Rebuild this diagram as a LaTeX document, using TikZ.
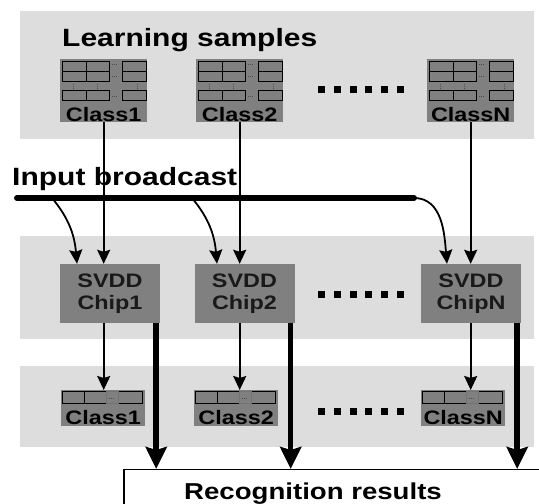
\documentclass[tikz,border=0pt]{standalone}
\usepackage{fontspec}
\setmainfont{Liberation Sans}[FakeStretch=1.2]
\usetikzlibrary{arrows.meta, positioning}
\definecolor{panelgray}{RGB}{221,221,221}
\definecolor{boxgray}{RGB}{128,128,128}

\begin{document}
\begin{tikzpicture}[
    x=1pt, y=1pt,
    panel/.style={fill=panelgray, draw=none},
    chip/.style={rectangle, fill=boxgray, minimum width=100pt, minimum height=59pt,
                 inner sep=0pt, align=center, text=black!90,
                 font=\fontsize{19.5}{21.5}\selectfont\bfseries},
    sample/.style={rectangle, fill=boxgray, minimum width=87pt, minimum height=63pt,
                   inner sep=0pt, anchor=north west},
    outcls/.style={rectangle, fill=boxgray, minimum width=84pt, minimum height=36pt,
                   inner sep=0pt, anchor=north west},
    cell/.style={draw=black, line width=1pt, fill=boxgray},
    dots/.style={draw=black!70, line width=0.8pt, dash pattern=on 1pt off 1pt},
    classtxt/.style={font=\fontsize{19.5}{20}\selectfont\bfseries, inner sep=0pt, anchor=base},
    title/.style={font=\fontsize{25}{28}\selectfont\bfseries, inner sep=0pt},
    sq/.style={fill=black, minimum size=7pt, inner sep=0pt},
    arrow/.style={-{Stealth[length=14pt, width=13pt, inset=2pt]}, line width=1.8pt},
    bigarrow/.style={-{Stealth[length=22pt, width=21pt, inset=3pt]}, line width=5.5pt},
    bus/.style={line width=6pt, line cap=round}
]
\useasboundingbox (0,0) rectangle (539,504);

% Bandes grises
\fill[panel] (20,365) rectangle (534,493);
\fill[panel] (20,165) rectangle (534,268);
\fill[panel] (20,57) rectangle (534,138);

% Echantillons d'apprentissage
\node[title, anchor=base west] (learn) at (62,457) {Learning samples};
\node[sample] (samp1) at (60,445) {};
\node[sample] (samp2) at (196,445) {};
\node[sample] (sampN) at (427,445) {};

\foreach \n in {1,2,N}{
  \begin{scope}[shift={(samp\n.north west)}]
    \foreach \xa/\xb in {2/26, 26/49, 62/86}
      \foreach \ya/\yb in {3/13, 13/23, 32/42}
        \draw[cell] (\xa,-\ya) rectangle (\xb,-\yb);
    \foreach \yy in {5,17,37} \draw[dots] (52,-\yy) -- (58,-\yy);
    \foreach \xx in {13,37,77} \draw[dots] (\xx,-25) -- (\xx,-30);
  \end{scope}
}
\node[classtxt] (lsamp1) at ([yshift=1pt]samp1.south) {Class1};
\node[classtxt] (lsamp2) at ([yshift=1pt]samp2.south) {Class2};
\node[classtxt] (lsampN) at ([yshift=1pt]sampN.south) {ClassN};

% Puces SVDD
\node[chip] (chip1) at (110,210.5) {SVDD\\Chip1};
\node[chip] (chip2) at (244.5,210.5) {SVDD\\Chip2};
\node[chip] (chipN) at (471,210.5) {SVDD\\ChipN};

% Classes en sortie
\node[outcls] (out1) at (61,114) {};
\node[outcls] (out2) at (194,114) {};
\node[outcls] (outN) at (421,114) {};
\foreach \n in {1,2,N}{
  \begin{scope}[shift={(out\n.north west)}]
    \foreach \xa/\xb in {1/23, 23/45, 57/81}
      \draw[cell] (\xa,-2) rectangle (\xb,-14);
    \draw[cell, draw=black!55] (45,-2) rectangle (57,-14);
    \draw[dots] (48,-8) -- (54,-8);
  \end{scope}
}
\node[classtxt] (lout1) at ([yshift=2pt]out1.south) {Class1};
\node[classtxt] (lout2) at ([yshift=2pt]out2.south) {Class2};
\node[classtxt] (loutN) at ([yshift=2pt]outN.south) {ClassN};

% Points de suspension
\foreach \k in {0,...,5}{
  \node[sq] (dta\k) at (321.5+15.8*\k,414) {};
  \node[sq] (dtb\k) at (321.5+15.8*\k,209) {};
  \node[sq] (dtc\k) at (321.5+15.8*\k,92) {};
}

% Resultats
\node[draw, line width=1.5pt, fill=white, minimum width=440pt, minimum height=50pt,
      anchor=north west] (res) at (123,35) {};
\node[title, font=\fontsize{23}{26}\selectfont\bfseries, anchor=base] (restxt) at (313,4.5) {Recognition results};

% Diffusion d'entree
\node[title, anchor=base west] (input) at (12,318) {Input broadcast};
\coordinate (busA) at (17,306);
\coordinate (busB) at (414,306);
\coordinate (tap1) at (52,306);
\coordinate (tap2) at (192,306);
\draw[bus] (busA) -- (busB);
\draw[arrow] (tap1) to[out=-50, in=95] ([xshift=-33pt]chip1.north);
\draw[arrow] (tap2) to[out=-50, in=95] ([xshift=-27.5pt]chip2.north);
\draw[arrow] (busB) to[out=0, in=95] ([xshift=-24pt]chipN.north);

% Fleches echantillons -> puces -> classes
\draw[arrow] (lsamp1.south |- samp1.south) -- (lsamp1.south |- chip1.north);
\draw[arrow] (lsamp2.south |- samp2.south) -- (lsamp2.south |- chip2.north);
\draw[arrow] (lsampN.south |- sampN.south) -- (lsampN.south |- chipN.north);
\draw[arrow] (lsamp1.south |- chip1.south) -- (lsamp1.south |- out1.north);
\draw[arrow] (lsamp2.south |- chip2.south) -- (lsamp2.south |- out2.north);
\draw[arrow] (lsampN.south |- chipN.south) -- (lsampN.south |- outN.north);

% Fleches vers les resultats
\draw[bigarrow] ([xshift=-4pt]chip1.south east) -- ([xshift=-4pt]chip1.south east |- res.north);
\draw[bigarrow] ([xshift=-4pt]chip2.south east) -- ([xshift=-4pt]chip2.south east |- res.north);
\draw[bigarrow] ([xshift=-4pt]chipN.south east) -- ([xshift=-4pt]chipN.south east |- res.north);

\end{tikzpicture}
\end{document}
